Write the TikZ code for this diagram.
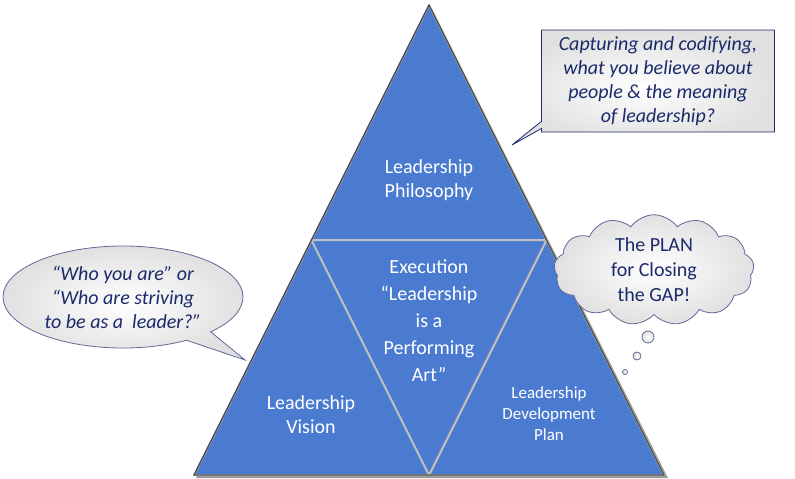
\documentclass[tikz,border=0pt]{standalone}
\usepackage{fontspec}
\setmainfont{Carlito}
\usetikzlibrary{shapes.callouts,shapes.symbols,calc}
\definecolor{tri}{HTML}{4A7BD0}
\definecolor{navy}{HTML}{1A2A6A}
\begin{document}
\begin{tikzpicture}[x=1pt,y=-1pt,
  tripart/.style={fill=tri,draw=black!25,line width=2pt,line join=round},
  wtxt/.style={text=white,font=\fontsize{20}{24}\selectfont,align=center},
  ctxt/.style={text=navy,font=\fontsize{20}{24}\selectfont\itshape,align=center,inner sep=1pt},
  bubble/.style={draw=navy!70,line width=0.8pt,shade,inner color=white,outer color=black!12}]
\useasboundingbox (0,0) rectangle (795,479);
\coordinate (A) at (429,5);
\coordinate (L) at (194,475);
\coordinate (R) at (664,475);
\coordinate (ML) at (311.5,240);
\coordinate (MR) at (546.5,240);
\coordinate (MB) at (429,475);
\fill[black!40] ($(A)+(3,4)$) -- ($(R)+(4,3)$) -- ($(L)+(2,3)$) -- cycle;
\draw[tripart] (A) -- (MR) -- (ML) -- cycle;
\draw[tripart] (ML) -- (MB) -- (L) -- cycle;
\draw[tripart] (MR) -- (R) -- (MB) -- cycle;
\draw[tripart] (ML) -- (MR) -- (MB) -- cycle;
\draw[black!70,line width=1.2pt,line join=round] (A) -- (R) -- (L) -- cycle;
\node[wtxt] (phil) at (429,180) {Leadership\\Philosophy};
\node[wtxt,font=\fontsize{20}{27}\selectfont] (exec) at (429,321) {Execution\\\textquotedblleft Leadership\\is a\\Performing\\Art\textquotedblright};
\node[wtxt] (vis) at (311,415) {Leadership\\Vision};
\node[wtxt,font=\fontsize{17}{21}\selectfont] (dev) at (549,414) {Leadership\\Development\\Plan};
\node[rectangle callout,bubble,draw=navy,minimum width=233pt,minimum height=102pt,
  callout absolute pointer={(512,145)},ctxt] (cap) at (658,81)
  {Capturing and codifying,\\what you believe about\\people \& the meaning\\of leadership?};
\node[ellipse callout,bubble,minimum width=240pt,minimum height=102pt,
  callout absolute pointer={(245,360)},ctxt] (who) at (123,297)
  {\textquotedblleft Who you are\textquotedblright{} or\\\textquotedblleft Who are striving\\to be as a~ leader?\textquotedblright};
\node[cloud,bubble,cloud puffs=13,cloud puff arc=110,aspect=2,inner sep=0pt,minimum width=200pt,minimum height=100pt,
  text=navy,font=\fontsize{20}{25}\selectfont,align=center] (plan) at (654,270)
  {The PLAN\\for Closing\\the GAP!};
\node[circle,bubble,minimum size=12pt,inner sep=0] (b1) at (648,337) {};
\node[circle,bubble,minimum size=8pt,inner sep=0] (b2) at (637,356) {};
\node[circle,bubble,minimum size=5pt,inner sep=0] (b3) at (625,372) {};
\end{tikzpicture}
\end{document}
